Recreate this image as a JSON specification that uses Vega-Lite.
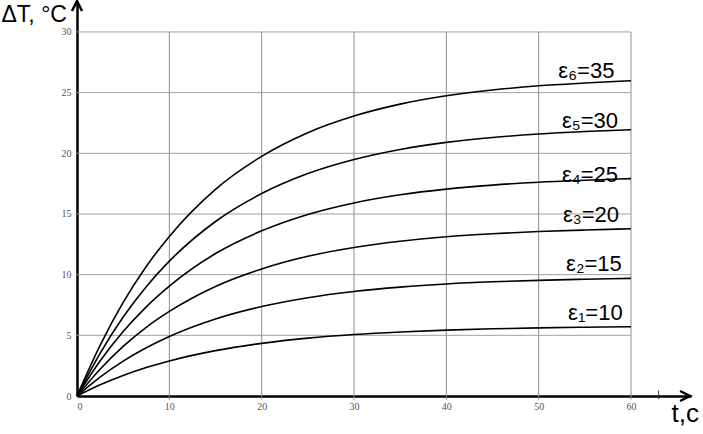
{
  "$schema": "https://vega.github.io/schema/vega-lite/v6.json",
  "width": 614,
  "height": 395,
  "autosize": {"type": "none"},
  "padding": {"left": 77, "top": 1, "right": 12, "bottom": 38},
  "background": "white",
  "config": {"view": {"stroke": null}},
  "datasets": {
    "curves": [
      {"t":0,"v":0,"eps":"e6"},{"t":2.5,"v":4.17,"eps":"e6"},{"t":5,"v":7.71,"eps":"e6"},{"t":7.5,"v":10.67,"eps":"e6"},{"t":10,"v":13.15,"eps":"e6"},{"t":15,"v":17.03,"eps":"e6"},{"t":20,"v":19.75,"eps":"e6"},{"t":25,"v":21.7,"eps":"e6"},{"t":30,"v":23.07,"eps":"e6"},{"t":35,"v":24.05,"eps":"e6"},{"t":40,"v":24.74,"eps":"e6"},{"t":45,"v":25.21,"eps":"e6"},{"t":50,"v":25.56,"eps":"e6"},{"t":55,"v":25.79,"eps":"e6"},{"t":60,"v":25.98,"eps":"e6"},
      {"t":0,"v":0,"eps":"e5"},{"t":2.5,"v":3.52,"eps":"e5"},{"t":5,"v":6.51,"eps":"e5"},{"t":7.5,"v":9.01,"eps":"e5"},{"t":10,"v":11.11,"eps":"e5"},{"t":15,"v":14.38,"eps":"e5"},{"t":20,"v":16.68,"eps":"e5"},{"t":25,"v":18.33,"eps":"e5"},{"t":30,"v":19.49,"eps":"e5"},{"t":35,"v":20.32,"eps":"e5"},{"t":40,"v":20.9,"eps":"e5"},{"t":45,"v":21.3,"eps":"e5"},{"t":50,"v":21.59,"eps":"e5"},{"t":55,"v":21.79,"eps":"e5"},{"t":60,"v":21.94,"eps":"e5"},
      {"t":0,"v":0,"eps":"e4"},{"t":2.5,"v":2.88,"eps":"e4"},{"t":5,"v":5.31,"eps":"e4"},{"t":7.5,"v":7.35,"eps":"e4"},{"t":10,"v":9.06,"eps":"e4"},{"t":15,"v":11.74,"eps":"e4"},{"t":20,"v":13.61,"eps":"e4"},{"t":25,"v":14.96,"eps":"e4"},{"t":30,"v":15.91,"eps":"e4"},{"t":35,"v":16.58,"eps":"e4"},{"t":40,"v":17.05,"eps":"e4"},{"t":45,"v":17.38,"eps":"e4"},{"t":50,"v":17.62,"eps":"e4"},{"t":55,"v":17.78,"eps":"e4"},{"t":60,"v":17.91,"eps":"e4"},
      {"t":0,"v":0,"eps":"e3"},{"t":2.5,"v":2.21,"eps":"e3"},{"t":5,"v":4.09,"eps":"e3"},{"t":7.5,"v":5.66,"eps":"e3"},{"t":10,"v":6.97,"eps":"e3"},{"t":15,"v":9.03,"eps":"e3"},{"t":20,"v":10.47,"eps":"e3"},{"t":25,"v":11.51,"eps":"e3"},{"t":30,"v":12.24,"eps":"e3"},{"t":35,"v":12.75,"eps":"e3"},{"t":40,"v":13.12,"eps":"e3"},{"t":45,"v":13.37,"eps":"e3"},{"t":50,"v":13.55,"eps":"e3"},{"t":55,"v":13.68,"eps":"e3"},{"t":60,"v":13.78,"eps":"e3"},
      {"t":0,"v":0,"eps":"e2"},{"t":2.5,"v":1.56,"eps":"e2"},{"t":5,"v":2.88,"eps":"e2"},{"t":7.5,"v":3.98,"eps":"e2"},{"t":10,"v":4.91,"eps":"e2"},{"t":15,"v":6.35,"eps":"e2"},{"t":20,"v":7.37,"eps":"e2"},{"t":25,"v":8.1,"eps":"e2"},{"t":30,"v":8.61,"eps":"e2"},{"t":35,"v":8.97,"eps":"e2"},{"t":40,"v":9.23,"eps":"e2"},{"t":45,"v":9.41,"eps":"e2"},{"t":50,"v":9.53,"eps":"e2"},{"t":55,"v":9.62,"eps":"e2"},{"t":60,"v":9.69,"eps":"e2"},
      {"t":0,"v":0,"eps":"e1"},{"t":2.5,"v":0.92,"eps":"e1"},{"t":5,"v":1.69,"eps":"e1"},{"t":7.5,"v":2.34,"eps":"e1"},{"t":10,"v":2.89,"eps":"e1"},{"t":15,"v":3.74,"eps":"e1"},{"t":20,"v":4.34,"eps":"e1"},{"t":25,"v":4.77,"eps":"e1"},{"t":30,"v":5.07,"eps":"e1"},{"t":35,"v":5.28,"eps":"e1"},{"t":40,"v":5.43,"eps":"e1"},{"t":45,"v":5.54,"eps":"e1"},{"t":50,"v":5.61,"eps":"e1"},{"t":55,"v":5.67,"eps":"e1"},{"t":60,"v":5.71,"eps":"e1"}
    ],
    "labels": [
      {"t":58.2,"v":26.2,"txt":"ε₆=35"},
      {"t":58.6,"v":22.1,"txt":"ε₅=30"},
      {"t":58.6,"v":17.6,"txt":"ε₄=25"},
      {"t":58.7,"v":14.3,"txt":"ε₃=20"},
      {"t":59.0,"v":10.3,"txt":"ε₂=15"},
      {"t":59.1,"v":6.3,"txt":"ε₁=10"}
    ],
    "gridx": [{"g":10},{"g":20},{"g":30},{"g":40},{"g":50},{"g":60}],
    "gridy": [{"g":5},{"g":10},{"g":15},{"g":20},{"g":25},{"g":30}],
    "extraTick": [{"t":63.0,"v":-0.25,"v2":0.45}],
    "arrowUp": [{"t":0,"v":32.55}],
    "arrowRight": [{"t":66.4,"v":0}]
  },
  "layer": [
    {
      "data": {"name": "gridx"},
      "mark": {"type": "rule", "color": "#8c8c8c", "strokeWidth": 1},
      "encoding": {
        "x": {"field": "g", "type": "quantitative", "scale": {"domain": [0, 66.5], "nice": false, "zero": false}, "axis": {"values": [0,10,20,30,40,50,60], "grid": false, "ticks": false, "tickSize": 0, "domainColor": "black", "domainWidth": 2.5, "labelFont": "Liberation Serif", "labelFontSize": 10, "labelColor": "#555", "labelPadding": 5, "title": "t,c", "titleFont": "Liberation Sans", "titleFontSize": 26, "titleFontWeight": "normal", "titleColor": "black", "titleAngle": 0, "titleAlign": "left", "titleBaseline": "alphabetic", "titleX": 594, "titleY": 25}},
        "y": {"datum": -0.3, "type": "quantitative"},
        "y2": {"datum": 30}
      }
    },
    {
      "data": {"name": "gridy"},
      "mark": {"type": "rule", "color": "#a0a0a0", "strokeWidth": 1},
      "encoding": {
        "y": {"field": "g", "type": "quantitative", "scale": {"domain": [0, 32.55], "nice": false, "zero": false}, "axis": {"values": [0,5,10,15,20,25,30], "grid": false, "ticks": false, "tickSize": 0, "domainColor": "black", "domainWidth": 2.5, "labelFont": "Liberation Serif", "labelFontSize": 10, "labelColor": "#555", "labelPadding": 6, "title": "ΔT, °C", "titleFont": "Liberation Sans", "titleFontSize": 23, "titleFontWeight": "normal", "titleColor": "black", "titleAngle": 0, "titleAlign": "left", "titleBaseline": "alphabetic", "titleX": -76, "titleY": 20}},
        "x": {"datum": 0, "type": "quantitative"},
        "x2": {"datum": 60}
      }
    },
    {
      "data": {"name": "extraTick"},
      "mark": {"type": "rule", "color": "#333", "strokeWidth": 1},
      "encoding": {
        "x": {"field": "t", "type": "quantitative"},
        "y": {"field": "v", "type": "quantitative"},
        "y2": {"field": "v2"}
      }
    },
    {
      "data": {"name": "curves"},
      "mark": {"type": "line", "color": "black", "strokeWidth": 1.6, "interpolate": "monotone"},
      "encoding": {
        "x": {"field": "t", "type": "quantitative"},
        "y": {"field": "v", "type": "quantitative"},
        "detail": {"field": "eps"}
      }
    },
    {
      "data": {"name": "labels"},
      "mark": {"type": "text", "align": "right", "baseline": "alphabetic", "font": "Liberation Sans", "fontSize": 22, "color": "black"},
      "encoding": {
        "x": {"field": "t", "type": "quantitative"},
        "y": {"field": "v", "type": "quantitative"},
        "text": {"field": "txt"}
      }
    },
    {
      "data": {"name": "arrowUp"},
      "mark": {"type": "point", "shape": "M -1 2 L 0 0 L 1 2", "filled": false, "stroke": "black", "strokeWidth": 2.5, "size": 100, "opacity": 1},
      "encoding": {
        "x": {"field": "t", "type": "quantitative"},
        "y": {"field": "v", "type": "quantitative"}
      }
    },
    {
      "data": {"name": "arrowRight"},
      "mark": {"type": "point", "shape": "M -2 -1 L 0 0 L -2 1", "filled": false, "stroke": "black", "strokeWidth": 2.5, "size": 100, "opacity": 1},
      "encoding": {
        "x": {"field": "t", "type": "quantitative"},
        "y": {"field": "v", "type": "quantitative"}
      }
    }
  ]
}
